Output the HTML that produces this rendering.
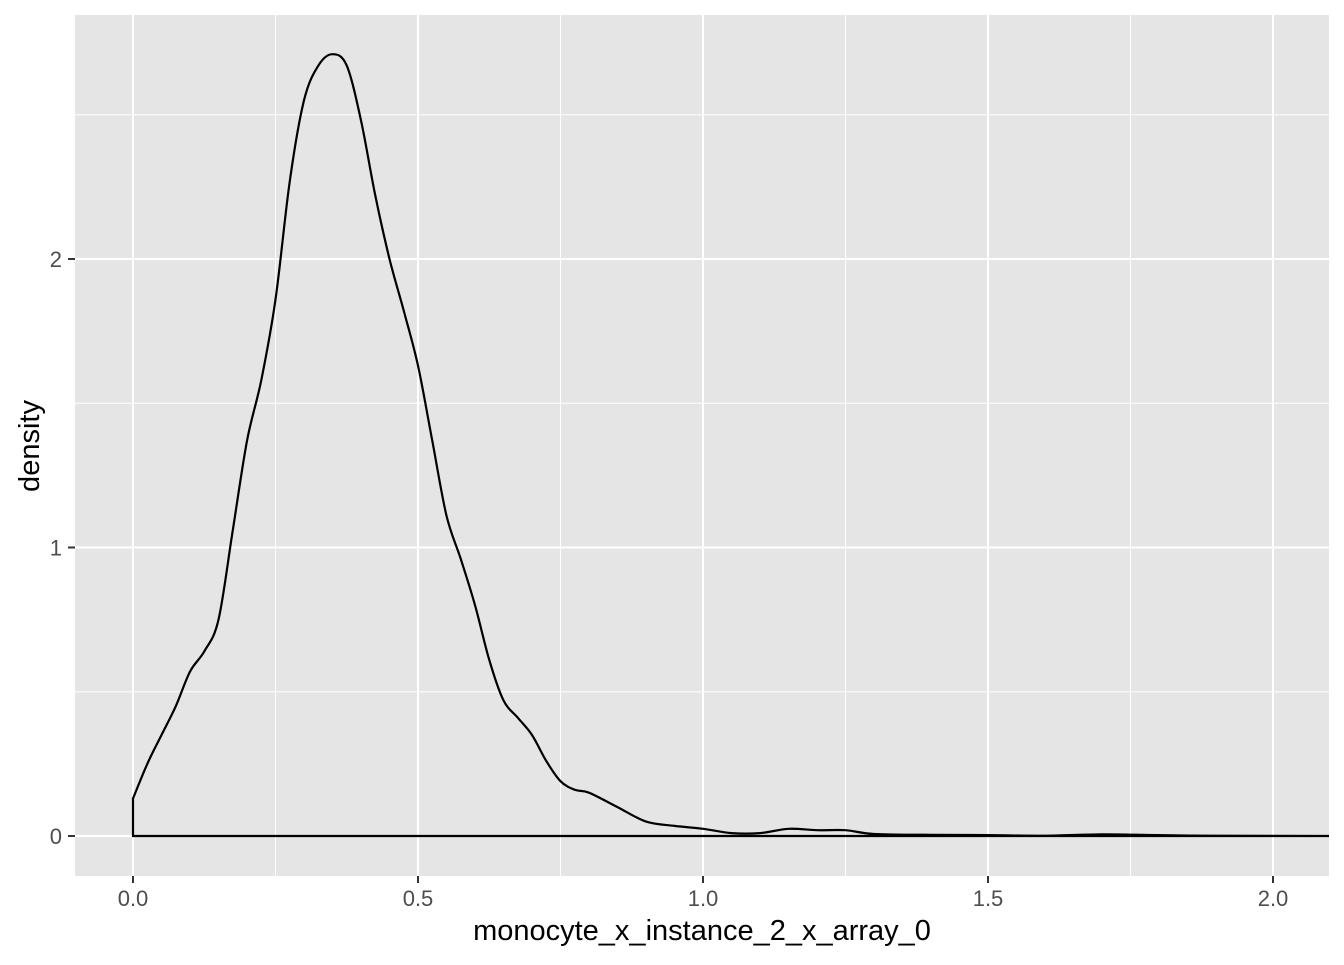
<!DOCTYPE html>
<html><head><meta charset="utf-8"><style>
body{margin:0;background:#fff}
svg text{font-family:"Liberation Sans",Arial,sans-serif}
</style></head><body>
<svg id="chart" width="1344" height="960"></svg>
<script>
const xs=[0,0.025,0.05,0.075,0.1,0.125,0.15,0.175,0.2,0.225,0.25,0.275,0.3,0.325,0.35,0.375,0.4,0.425,0.45,0.475,0.5,0.525,0.55,0.575,0.6,0.625,0.65,0.675,0.7,0.725,0.75,0.775,0.8,0.85,0.9,0.95,1.0,1.05,1.1,1.15,1.2,1.25,1.3,1.4,1.5,1.6,1.7,1.8,1.9,2.1];
const ys=[0.13,0.25,0.35,0.45,0.57,0.64,0.75,1.06,1.37,1.58,1.86,2.27,2.55,2.67,2.71,2.67,2.48,2.22,2.0,1.82,1.63,1.37,1.11,0.96,0.80,0.61,0.47,0.41,0.35,0.26,0.19,0.16,0.15,0.10,0.05,0.035,0.025,0.01,0.01,0.025,0.02,0.02,0.007,0.004,0.003,0.001,0.006,0.003,0.001,0];
const xTicks=[0,0.5,1.0,1.5,2.0];
const xTickLabels=["0.0","0.5","1.0","1.5","2.0"];
const yTicks=[0,1,2];
const yTickLabels=["0","1","2"];
const xMinor=[0.25,0.75,1.25,1.75];
const yMinor=[0.5,1.5,2.5];
const P={l:75,r:1329,t:15,b:876};
const X=v=>133+v*570, Y=v=>836-v*288.5;
const NS="http://www.w3.org/2000/svg", svg=document.getElementById('chart');
function mk(t,a,p){const e=document.createElementNS(NS,t);for(const k in a)e.setAttribute(k,a[k]);(p||svg).appendChild(e);return e;}
const bg=mk('rect',{x:P.l,y:P.t,width:P.r-P.l,height:P.b-P.t,fill:'#E5E5E5'});


xMinor.forEach(v=>{const l=mk('line',{x1:X(v),x2:X(v),y1:P.t,y2:P.b,stroke:'#fff','stroke-width':1});

});
yMinor.forEach(v=>{const l=mk('line',{x1:P.l,x2:P.r,y1:Y(v),y2:Y(v),stroke:'#fff','stroke-width':1});

});
xTicks.forEach((v,i)=>{const l=mk('line',{x1:X(v),x2:X(v),y1:P.t,y2:P.b,stroke:'#fff','stroke-width':2});


const tk=mk('line',{x1:X(v),x2:X(v),y1:P.b,y2:P.b+7,stroke:'#333','stroke-width':2});


const t=mk('text',{x:X(v),y:906,'text-anchor':'middle','font-size':22,fill:'#4D4D4D'});t.textContent=xTickLabels[i];

});
yTicks.forEach((v,i)=>{const l=mk('line',{x1:P.l,x2:P.r,y1:Y(v),y2:Y(v),stroke:'#fff','stroke-width':2});


const tk=mk('line',{x1:P.l-7,x2:P.l,y1:Y(v),y2:Y(v),stroke:'#333','stroke-width':2});


const t=mk('text',{x:62,y:Y(v)+8,'text-anchor':'end','font-size':22,fill:'#4D4D4D'});t.textContent=yTickLabels[i];

});
// smooth curve via Catmull-Rom
const pts=xs.map((v,i)=>[X(v),Y(ys[i])]);
let d='M'+X(0)+','+Y(0)+' L'+pts[0][0]+','+pts[0][1];
for(let i=0;i<pts.length-1;i++){
  const p0=pts[Math.max(0,i-1)],p1=pts[i],p2=pts[i+1],p3=pts[Math.min(pts.length-1,i+2)];
  const c1=[p1[0]+(p2[0]-p0[0])/6,p1[1]+(p2[1]-p0[1])/6];
  const c2=[p2[0]-(p3[0]-p1[0])/6,p2[1]-(p3[1]-p1[1])/6];
  d+=' C'+c1[0].toFixed(1)+','+c1[1].toFixed(1)+' '+c2[0].toFixed(1)+','+c2[1].toFixed(1)+' '+p2[0].toFixed(1)+','+p2[1].toFixed(1);
}
d+=' L'+X(0)+','+Y(0)+' Z';
const cp=mk('clipPath',{id:'clip'});mk('rect',{x:P.l,y:P.t,width:P.r-P.l,height:P.b-P.t},cp);
const path=mk('path',{d:d,fill:'none',stroke:'#000','stroke-width':2.2,'clip-path':'url(#clip)'});


const xt=mk('text',{x:702,y:940,'text-anchor':'middle','font-size':29,fill:'#000'});xt.textContent='monocyte_x_instance_2_x_array_0';


const yt=mk('text',{x:0,y:0,transform:'translate(39,446) rotate(-90)','text-anchor':'middle','font-size':29,fill:'#000'});yt.textContent='density';


</script>
</body></html>
